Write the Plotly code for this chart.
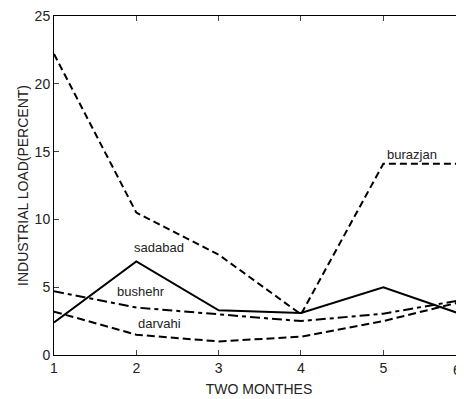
import plotly.graph_objects as go

months = [1, 2, 3, 4, 5, 6]
burazjan = [22.2, 10.5, 7.4, 3.0, 14.1, 14.1]
sadabad = [2.4, 6.9, 3.3, 3.1, 5.0, 2.9]
bushehr = [4.7, 3.5, 3.0, 2.5, 3.05, 4.1]
darvahi = [3.2, 1.5, 1.0, 1.35, 2.5, 4.0]

labels = ["burazjan", "sadabad", "bushehr", "darvahi"]
label_x = [5.35, 2.28, 2.06, 2.28]
label_y = [14.8, 7.9, 4.7, 2.3]

x_ticks = [1, 2, 3, 4, 5]
y_ticks = [0, 5, 10, 15, 20, 25]

FONT = "Liberation Sans, Arial, sans-serif"
TXT = "#222222"

fig = go.Figure()
series = [
    (burazjan, "7px,4px"),
    (sadabad, "solid"),
    (bushehr, "10px,4px,4px,4px"),
    (darvahi, "8px,4px"),
]
for vals, dash in series:
    fig.add_trace(go.Scatter(x=months, y=vals, mode="lines",
                             line=dict(color="black", width=2, dash=dash),
                             showlegend=False, hoverinfo="skip"))

# invisible trace on the right-hand axis so its ticks are drawn
fig.add_trace(go.Scatter(x=[1], y=[0], yaxis="y2", mode="markers",
                         marker=dict(opacity=0), showlegend=False, hoverinfo="skip"))

for t, lx, ly in zip(labels, label_x, label_y):
    fig.add_annotation(x=lx, y=ly, text=t, showarrow=False,
                       font=dict(family=FONT, size=13, color=TXT))

# "6" tick label at the right edge of the visible area
fig.add_annotation(x=1.0, y=0, xref="paper", yref="y", text="6", showarrow=False,
                   xanchor="right", xshift=-1, yshift=-15,
                   font=dict(family=FONT, size=14, color=TXT))

# the page body has an 8px default margin, so the figure is sized to fit the window
fig.update_layout(
    width=456, height=391,
    margin=dict(l=46, r=0, t=8, b=44, autoexpand=False),
    paper_bgcolor="white", plot_bgcolor="white",
    font=dict(family=FONT, size=14, color=TXT),
    xaxis=dict(range=[1, 5.98], tickvals=x_ticks, ticks="inside", ticklen=5,
               showline=True, linecolor="black", linewidth=1, mirror="ticks",
               showgrid=False, zeroline=False, automargin=False,
               title=dict(text="TWO MONTHES", standoff=9, font=dict(size=14))),
    yaxis=dict(range=[0, 25], tickvals=y_ticks, ticks="inside", ticklen=5,
               showline=True, linecolor="black", linewidth=1,
               showgrid=False, zeroline=False, automargin=False,
               ticklabeloverflow="allow",
               title=dict(text="INDUSTRIAL LOAD(PERCENT)", standoff=2, font=dict(size=14))),
    yaxis2=dict(range=[0, 25], tickvals=y_ticks, ticks="inside", ticklen=5,
                overlaying="y", side="right", showline=False, automargin=False,
                showticklabels=False, showgrid=False, zeroline=False,
                tickcolor="black"),
)

fig.write_html("out.html")
